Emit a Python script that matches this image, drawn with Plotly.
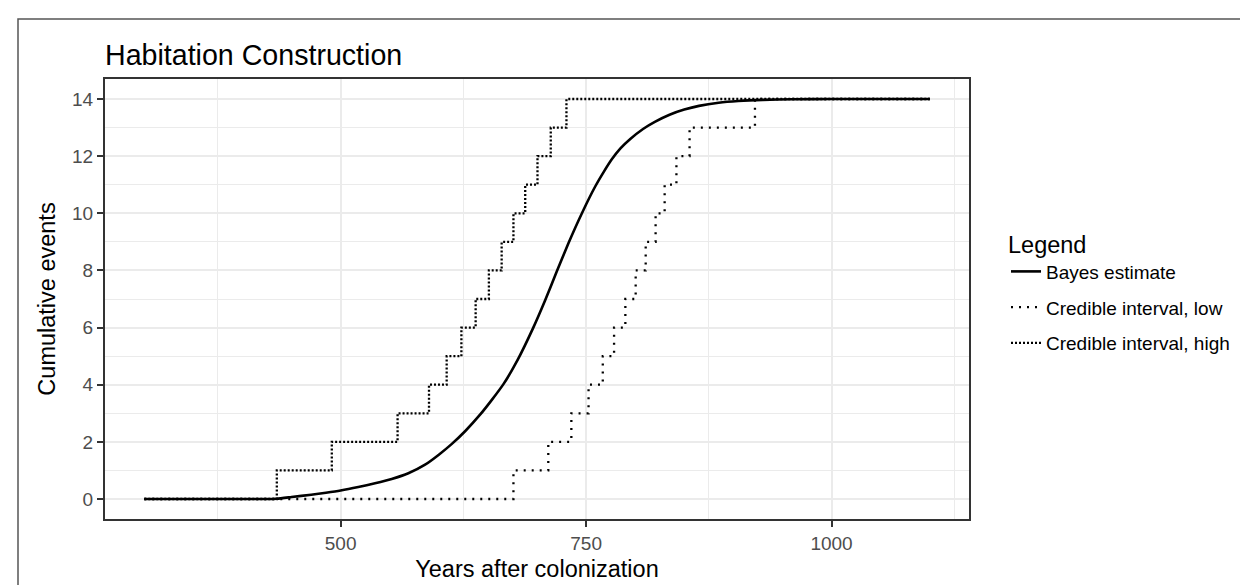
import plotly.graph_objects as go

# ---------------- data ----------------
bayes_years = [300, 420, 435, 450, 470, 485, 500, 518, 535, 552, 569, 586, 600, 613,
               627, 642, 654, 666, 680, 696, 708, 720, 732, 746, 759, 768, 776, 785,
               795, 808, 820, 835, 850, 865, 885, 905, 930, 960, 1000, 1100]
bayes_values = [0, 0, 0.01, 0.07, 0.15, 0.22, 0.30, 0.42, 0.55, 0.70, 0.90, 1.20, 1.55, 1.92,
                2.38, 2.95, 3.47, 4.03, 4.85, 5.98, 6.93, 7.95, 8.95, 10.02, 10.92, 11.45, 11.88, 12.27,
                12.6, 12.95, 13.2, 13.45, 13.63, 13.76, 13.87, 13.93, 13.97, 13.99, 14.0, 14.0]

step_counts = [0, 1, 2, 3, 4, 5, 6, 7, 8, 9, 10, 11, 12, 13, 14, 14]
low_step_years = [300, 676, 711.5, 735, 752.5, 767, 778.5, 790, 800.5, 810.7, 820.8,
                  830, 842, 855.4, 922, 1100]
high_step_years = [300, 435, 491, 558, 590, 608, 623, 637.5, 651, 664, 676, 688,
                   700.5, 714, 730, 1100]

series_names = ["Bayes estimate", "Credible interval, low", "Credible interval, high"]
x_tickvals = [500, 750, 1000]
y_tickvals = [0, 2, 4, 6, 8, 10, 12, 14]

FONT = "Liberation Sans, Arial, Helvetica, sans-serif"

fig = go.Figure()
fig.add_trace(go.Scatter(x=bayes_years, y=bayes_values, mode="lines",
                         name=series_names[0], legendgroup="a",
                         line=dict(color="black", width=2.6, shape="spline", smoothing=0.5)))
fig.add_trace(go.Scatter(x=low_step_years, y=step_counts, mode="lines",
                         name=series_names[1], legendgroup="b",
                         line=dict(color="black", width=2.3, shape="hv", dash="2px,6px")))
fig.add_trace(go.Scatter(x=high_step_years, y=step_counts, mode="lines",
                         name=series_names[2], legendgroup="c",
                         line=dict(color="black", width=2.3, shape="hv", dash="2px,2px")))

W, H = 1248, 585
L, R, T, B = 97, 961, 71, 511
pw, ph = R - L, B - T

axis_common = dict(
    showline=True, linecolor="#333333", linewidth=2, mirror=True,
    ticks="outside", ticklen=6, tickwidth=1.5, tickcolor="#333333",
    tickfont=dict(family=FONT, size=19, color="#4D4D4D"),
    showgrid=True, gridcolor="#EBEBEB", gridwidth=2, zeroline=False,
)

fig.update_layout(
    width=W, height=H,
    margin=dict(l=L, r=W - R, t=T, b=H - B, pad=0),
    paper_bgcolor="white", plot_bgcolor="white",
    font=dict(family=FONT, color="black"),
    title=dict(text="Habitation Construction", font=dict(family=FONT, size=28.6, color="black"),
               xref="container", x=L / W, xanchor="left",
               yref="container", y=1 - 47 / H, yanchor="middle"),
    xaxis=dict(range=[260, 1140], tickmode="array", tickvals=x_tickvals,
               minor=dict(dtick=125, tick0=0, showgrid=True, gridcolor="#EBEBEB", gridwidth=1, ticks=""),
               title=dict(text="Years after colonization", font=dict(family=FONT, size=23.5, color="black"),
                          standoff=8),
               **axis_common),
    yaxis=dict(range=[-0.7, 14.7], tickmode="array", tickvals=y_tickvals,
               minor=dict(dtick=1, tick0=0, showgrid=True, gridcolor="#EBEBEB", gridwidth=1, ticks=""),
               title=dict(text="Cumulative events", font=dict(family=FONT, size=23.5, color="black"),
                          standoff=10),
               **axis_common),
    legend=dict(title=dict(text="Legend", font=dict(family=FONT, size=23.5, color="black")),
                font=dict(family=FONT, size=19, color="black"),
                x=(998 - L) / pw, xanchor="left", y=(B - 214) / ph, yanchor="top",
                bgcolor="rgba(0,0,0,0)", itemwidth=30, tracegroupgap=8),
    showlegend=True,
    shapes=[dict(type="rect", xref="paper", yref="paper",
                 x0=(10 - L) / pw, x1=3, y0=(B - 11) / ph, y1=-2,
                 line=dict(color="#555555", width=1.5), fillcolor="rgba(0,0,0,0)", layer="above")],
)

fig.write_html("out.html")
